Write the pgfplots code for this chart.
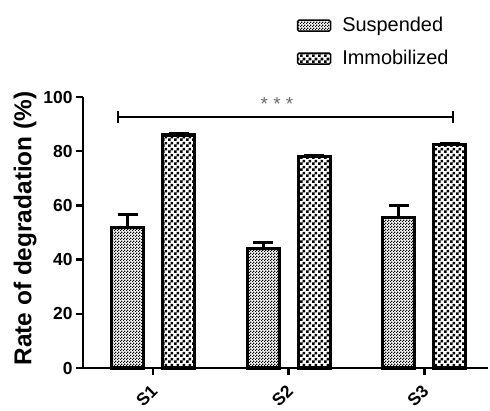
\documentclass[border=0pt]{standalone}
\usepackage{fontspec}
\setmainfont{Liberation Sans}
\usepackage{pgfplots}
\pgfplotsset{compat=1.18}
\usetikzlibrary{patterns}
\pgfdeclarepatternformonly{finechecker}{\pgfpointorigin}{\pgfpoint{3bp}{3bp}}{\pgfpoint{3bp}{3bp}}{%
  \pgfpathrectangle{\pgfpointorigin}{\pgfpoint{1.5bp}{1.5bp}}%
  \pgfpathrectangle{\pgfpoint{1.5bp}{1.5bp}}{\pgfpoint{1.5bp}{1.5bp}}%
  \pgfusepath{fill}}
\pgfdeclarepatternformonly{coarsechecker}{\pgfpointorigin}{\pgfpoint{6bp}{6bp}}{\pgfpoint{6bp}{6bp}}{%
  \pgfpathrectangle{\pgfpointorigin}{\pgfpoint{3bp}{3bp}}%
  \pgfpathrectangle{\pgfpoint{3bp}{3bp}}{\pgfpoint{3bp}{3bp}}%
  \pgfusepath{fill}}
\pgfplotsset{mylegend/.style={legend image code/.code={%
  \draw[##1, line width=1.5bp, rounded corners=1.5bp] (0bp,-6bp) rectangle (33bp,5bp);}}}
\begin{document}
\begin{tikzpicture}
\useasboundingbox (-83bp,-43bp) rectangle (407bp,368bp);
\begin{axis}[
  at={(0,0)}, anchor=south west,
  scale only axis, width=405bp, height=271bp,
  xmin=0.483, xmax=3.47, ymin=0, ymax=100,
  axis x line=bottom, axis y line=left,
  axis line style={line width=2.5bp, -},
  xtick={1,2,3}, xticklabels={S1,S2,S3},
  ytick={0,20,40,60,80,100},
  tick style={line width=2.5bp, black},
  tick align=outside, major tick length=7bp,
  tick label style={font=\fontsize{17.5}{20}\selectfont\bfseries},
  /pgf/number format/assume math mode=true,
  xticklabel style={xshift=3.7bp, yshift=-10.6bp, rotate=45, anchor=east},
  ylabel={Rate of degradation (\%)},
  ylabel style={font=\fontsize{24.5}{28}\selectfont\bfseries, at={(axis description cs:-0.143,0.515)}, anchor=center},
  ybar, bar width=0.236,
  clip=false,
  legend style={draw=none, fill=none, at={(axis description cs:0.52,1.31)}, anchor=north west,
    font=\fontsize{20}{24}\selectfont, row sep=13bp, legend cell align=left,
    /tikz/every odd column/.append style={column sep=9bp}},
  error bars/y dir=plus, error bars/y explicit,
  error bars/error bar style={line width=2.8bp, black},
  error bars/error mark options={rotate=90, mark size=10bp, line width=2.8bp, black},
]
\addplot[bar shift=0pt, draw=black, line width=3.3bp, pattern=finechecker, pattern color=black, mylegend]
  coordinates {(0.812,51.8) +- (0,4.8) (1.812,44.2) +- (0,2.0) (2.812,55.5) +- (0,4.6)};
\addlegendentry{Suspended}
\addplot[bar shift=0pt, draw=black, line width=3.3bp, pattern=coarsechecker, pattern color=black, mylegend]
  coordinates {(1.188,86.0) +- (0,0.4) (2.188,78.0) +- (0,0.4) (3.188,82.5) +- (0,0.4)};
\addlegendentry{Immobilized}
\draw[line width=1.8bp] (axis cs:0.742,92.6) -- (axis cs:3.214,92.6);
\draw[line width=1.8bp] (axis cs:0.742,90.4) -- (axis cs:0.742,94.8);
\draw[line width=1.8bp] (axis cs:3.214,90.4) -- (axis cs:3.214,94.8);
\node[text=gray!85!black, font=\fontsize{19}{22}\selectfont] at (axis cs:1.914,97.6) {* * *};
\end{axis}
\end{tikzpicture}
\end{document}
